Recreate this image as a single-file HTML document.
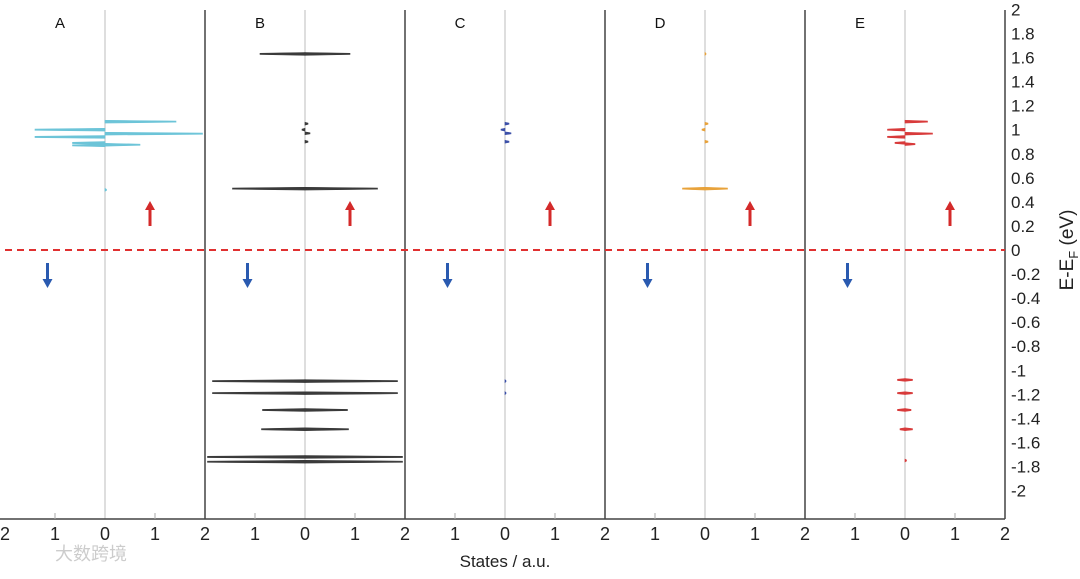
<!DOCTYPE html>
<html><head><meta charset="utf-8"><style>
body{margin:0;background:#fff;width:1080px;height:574px;overflow:hidden}
svg{font-family:"Liberation Sans","Noto Sans CJK SC",sans-serif}
</style></head><body>
<svg id="c" width="1080" height="574"></svg>
<script>
const panels=["A","B","C","D","E"];
const colors=["#6cc4d8","#3a3a3a","#3b4fa8","#e8a23a","#d83a3a"];
// spikes per panel: energy (eV), value (a.u., + spin up right, - spin down left)
const energiesA=[1.067,1.0,0.967,0.94,0.89,0.875,0.87,0.5];
const valuesA=[1.42,-1.4,1.95,-1.4,-0.65,0.7,-0.65,0.03];
const energiesB=[1.63,1.63,1.05,1.0,0.97,0.9,0.51,0.51,-1.09,-1.09,-1.19,-1.19,-1.33,-1.33,-1.49,-1.49,-1.72,-1.72,-1.76,-1.76];
const valuesB=[0.9,-0.9,0.06,-0.06,0.1,0.06,1.45,-1.45,1.85,-1.85,1.85,-1.85,0.85,-0.85,0.87,-0.87,1.95,-1.95,1.95,-1.95];
const energiesC=[1.05,1.0,0.97,0.9,-1.09,-1.19];
const valuesC=[0.08,-0.08,0.12,0.08,0.02,0.02];
const energiesD=[1.63,1.05,1.0,0.9,0.51,0.51];
const valuesD=[0.02,0.06,-0.06,0.06,0.45,-0.45];
const energiesE=[1.067,1.0,0.967,0.94,0.89,0.88,-1.08,-1.08,-1.19,-1.19,-1.33,-1.33,-1.49,-1.49,-1.75];
const valuesE=[0.45,-0.35,0.55,-0.35,-0.2,0.2,0.15,-0.15,0.15,-0.15,0.12,-0.15,0.15,-0.1,0.03];
const allE=[energiesA,energiesB,energiesC,energiesD,energiesE];
const allV=[valuesA,valuesB,valuesC,valuesD,valuesE];
const yTicks=[2,1.8,1.6,1.4,1.2,1,0.8,0.6,0.4,0.2,0,-0.2,-0.4,-0.6,-0.8,-1,-1.2,-1.4,-1.6,-1.8,-2];
const xTickLabels=["2","1","0","1","2"];

const svg=document.getElementById('c');
const NS="http://www.w3.org/2000/svg";
const Y=e=>250-e*120.3;
const X=(p,v)=>105+200*p+v*50;
function mk(t,a,txt){const el=document.createElementNS(NS,t);for(const k in a)el.setAttribute(k,a[k]);if(txt!==undefined)el.textContent=txt;svg.appendChild(el);return el;}

for(let p=0;p<5;p++){
 const cl=mk('line',{x1:X(p,0),x2:X(p,0),y1:10,y2:519,stroke:'#c8c8c8','stroke-width':1.2});
 
 
}
for(let p=0;p<5;p++){
 allE[p].forEach((e,i)=>{
  const v=allV[p][i];const y=Y(e);const x0=X(p,0),x1=X(p,v);
  const s=mk('polygon',{points:`${x0},${y-1.4} ${x1},${y-0.6} ${x1},${y+0.6} ${x0},${y+1.4}`,fill:colors[p],stroke:colors[p],'stroke-width':0.6});
  
  
 });
}
for(let p=1;p<=5;p++){
 const b=mk('line',{x1:5+200*p,x2:5+200*p,y1:10,y2:519,stroke:'#444','stroke-width':1.5});
 
 
}
const ax=mk('line',{x1:0,x2:1005,y1:519,y2:519,stroke:'#444','stroke-width':1.5});


for(let p=0;p<5;p++){
 [-1,1].forEach(v=>{const t=mk('line',{x1:X(p,v),x2:X(p,v),y1:513,y2:519,stroke:'#aaa'});
  
  });
 xTickLabels.forEach((l,i)=>{ if(p>0&&i==0)return;
  const t=mk('text',{x:X(p,i-2),y:540,'font-size':18,'text-anchor':'middle',fill:'#222'},l);
  
  });
 const lab=mk('text',{x:X(p,-0.9),y:28,'font-size':15,'text-anchor':'middle',fill:'#111'},panels[p]);
 
 
 const ua=mk('path',{d:`M${X(p,0.9)},201 l-5,9 h3.5 v16 h3 v-16 h3.5 z`,fill:'#d42a2a'});
 
 
 const da=mk('path',{d:`M${X(p,-1.15)},288 l-5,-9 h3.5 v-16 h3 v16 h3.5 z`,fill:'#2a5ab0'});
 
 
}
const f=mk('line',{x1:5,x2:1005,y1:250,y2:250,stroke:'#e03030','stroke-width':2,'stroke-dasharray':'7,5'});


yTicks.forEach(v=>{const t=mk('text',{x:1011,y:Y(v)+6,'font-size':17,fill:'#222'},String(v));
 
 });
const yt=mk('text',{transform:'translate(1073,250) rotate(-90)','font-size':19,'text-anchor':'middle',fill:'#222'});
yt.innerHTML='E-E<tspan font-size="13" dy="5">F</tspan><tspan dy="-5"> (eV)</tspan>';


const xt=mk('text',{x:505,y:567,'font-size':17,'text-anchor':'middle',fill:'#222'},'States / a.u.');


const wm=mk('text',{x:55,y:560,'font-size':18,fill:'#ccc'},'大数跨境');


</script>
</body></html>
